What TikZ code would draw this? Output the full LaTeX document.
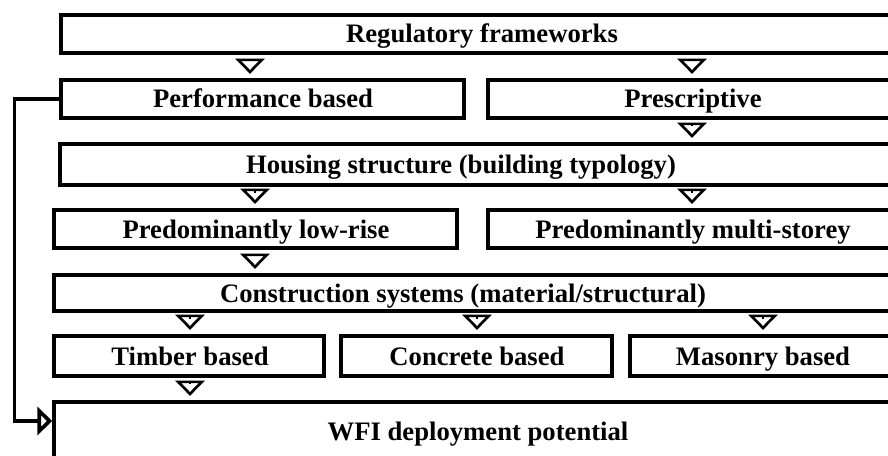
\documentclass[tikz,border=0pt]{standalone}
\usepackage{fontspec}
\setmainfont{Liberation Serif}
\usetikzlibrary{arrows.meta,fit}
\begin{document}
\begin{tikzpicture}[x=0.75pt,y=-0.75pt,
  box/.style={draw, line width=2.8pt, inner sep=0pt, fit={#1}},
  lbl/.style={anchor=base, inner sep=0pt, font=\fontsize{20pt}{24pt}\selectfont\bfseries},
  flow/.style={line width=2pt, -{Triangle[open, length=11.5pt, width=22pt]}, shorten <=4.5pt, shorten >=3.2pt},
  back/.style={line width=2.8pt, -{Triangle[open, length=11pt, width=21pt]}}]
\useasboundingbox (0,0) rectangle (888,456);
\clip (0,0) rectangle (888,456);
% boxes
\node[box={(61,15) (904,53)}] (reg) {};
\node[box={(61,80) (464,118)}] (perf) {};
\node[box={(488,80) (902,118)}] (presc) {};
\node[box={(60,144) (902,185)}] (house) {};
\node[box={(54,210) (457,248)}] (low) {};
\node[box={(488,210) (902,248)}] (multi) {};
\node[box={(54,275) (902,311)}] (constr) {};
\node[box={(54,336) (324,376)}] (timber) {};
\node[box={(341,336) (612,376)}] (concrete) {};
\node[box={(630,336) (902,376)}] (masonry) {};
\node[box={(54,402) (902,480)}] (wfi) {};
% labels
\node[lbl] (treg) at (482,43) {Regulatory frameworks};
\node[lbl] (tperf) at (263,108) {Performance based};
\node[lbl] (tpresc) at (693,108) {Prescriptive};
\node[lbl] (thouse) at (461,173.5) {Housing structure (building typology)};
\node[lbl] (tlow) at (256,238) {Predominantly low-rise};
\node[lbl] (tmulti) at (693,238) {Predominantly multi-storey};
\node[lbl] (tconstr) at (463,302) {Construction systems (material/structural)};
\node[lbl] (ttimber) at (190,365) {Timber based};
\node[lbl] (tconcrete) at (477,365) {Concrete based};
\node[lbl] (tmasonry) at (763,365) {Masonry based};
\node[lbl] (twfi) at (478,440) {WFI deployment potential};
% flows
\draw[flow] (reg.south -| 250,0) -- (perf.north -| 250,0);
\draw[flow] (reg.south -| 692,0) -- (presc.north -| 692,0);
\draw[flow] (presc.south -| 692,0) -- (house.north -| 692,0);
\draw[flow] (house.south -| 255,0) -- (low.north -| 255,0);
\draw[flow] (house.south -| 692,0) -- (multi.north -| 692,0);
\draw[flow] (low.south -| 255,0) -- (constr.north -| 255,0);
\draw[flow] (constr.south -| 190,0) -- (timber.north -| 190,0);
\draw[flow] (constr.south -| 477,0) -- (concrete.north -| 477,0);
\draw[flow] (constr.south -| 763,0) -- (masonry.north -| 763,0);
\draw[flow] (timber.south -| 190,0) -- (wfi.north -| 190,0);
% feedback loop
\coordinate (wfiin) at (wfi.west |- 0,421);
\draw[back] (perf.west) -| (14.5,421) -- (wfiin);
\end{tikzpicture}
\end{document}
